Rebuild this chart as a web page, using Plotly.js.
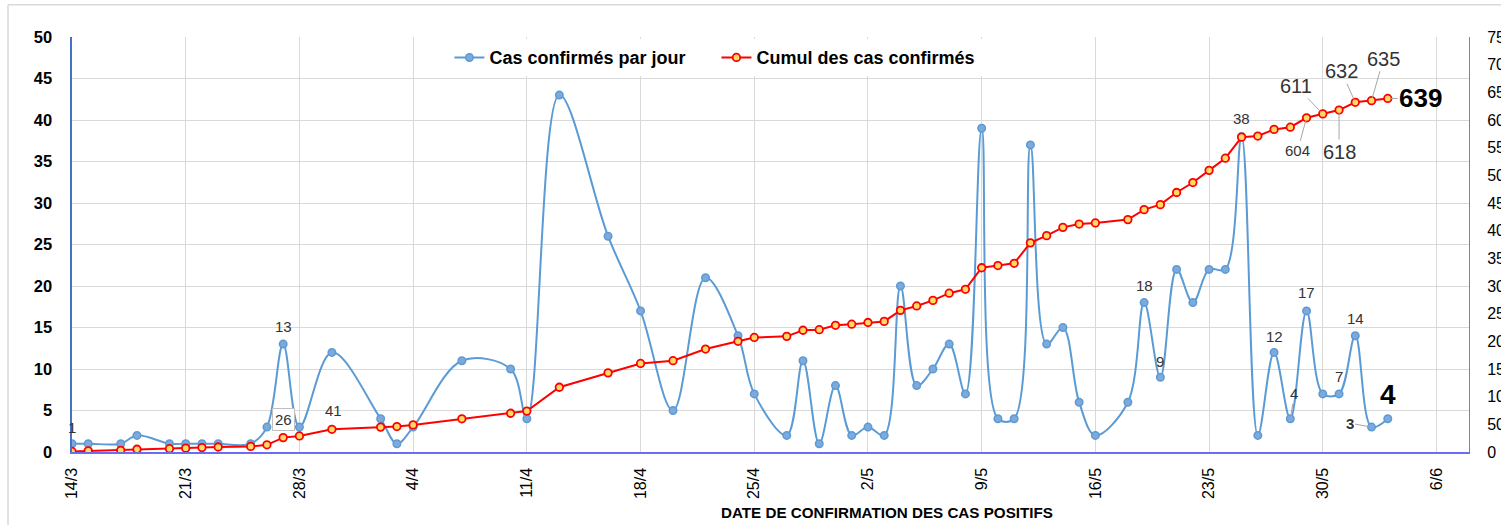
<!DOCTYPE html>
<html>
<head>
<meta charset="utf-8">
<script src="https://cdn.plot.ly/plotly-3.0.1.min.js"></script>
<style>
  html, body { margin: 0; padding: 0; background: #ffffff; }
  #chart { width: 1501px; height: 525px; }
</style>
</head>
<body>
<div id="chart"></div>
<script>
// ---- Data ----
const dates = [
  '2020-03-14','2020-03-15','2020-03-17','2020-03-18','2020-03-20','2020-03-21','2020-03-22','2020-03-23','2020-03-25','2020-03-26','2020-03-27','2020-03-28','2020-03-30',
  '2020-04-02','2020-04-03','2020-04-04','2020-04-07','2020-04-10','2020-04-11','2020-04-13','2020-04-16','2020-04-18','2020-04-20','2020-04-22','2020-04-24','2020-04-25','2020-04-27','2020-04-28','2020-04-29','2020-04-30',
  '2020-05-01','2020-05-02','2020-05-03','2020-05-04','2020-05-05','2020-05-06','2020-05-07','2020-05-08','2020-05-09','2020-05-10','2020-05-11','2020-05-12','2020-05-13','2020-05-14','2020-05-15','2020-05-16','2020-05-18','2020-05-19','2020-05-20','2020-05-21','2020-05-22','2020-05-23','2020-05-24','2020-05-25','2020-05-26','2020-05-27','2020-05-28','2020-05-29','2020-05-30','2020-05-31',
  '2020-06-01','2020-06-02','2020-06-03'
];
const dailyCases = [
  1,1,1,2,1,1,1,1,1,3,13,3,12,
  4,1,3,11,10,4,43,26,17,5,21,14,7,2,11,1,8,
  2,3,2,20,8,10,13,7,39,4,4,37,13,15,6,2,6,18,9,22,18,22,22,38,2,12,4,17,7,7,
  14,3,4
];
const cumulativeCases = [
  1,2,3,5,6,7,8,9,10,13,26,29,41,
  45,46,49,60,70,74,117,143,160,165,186,200,207,209,220,221,229,
  231,234,236,256,264,274,287,294,333,337,341,378,391,406,412,414,420,438,447,469,487,509,531,569,571,583,587,604,611,618,
  632,635,639
];
const seriesNames = ['Cas confirmés par jour', 'Cumul des cas confirmés'];
const xAxisTitle = 'DATE DE CONFIRMATION DES CAS POSITIFS';

// Labelled points: series, date of the point (text comes from the value)
const dailyLabelDates = ['2020-03-14','2020-03-27','2020-05-19','2020-05-20','2020-05-25','2020-05-27','2020-05-28','2020-05-29','2020-05-31','2020-06-01','2020-06-02','2020-06-03'];
const cumulLabelDates = ['2020-03-27','2020-03-30','2020-05-29','2020-05-30','2020-05-31','2020-06-01','2020-06-02','2020-06-03'];

// ---- Styles (positions of labels relative to their point, in px) ----
const labelStyle = {
  'd2020-03-14': {ys: 16},
  'd2020-03-27': {ys: 18},
  'd2020-05-19': {ys: 17},
  'd2020-05-20': {ys: 16},
  'd2020-05-25': {ys: 18},
  'd2020-05-27': {ys: 16},
  'd2020-05-28': {arrow: true, ax: 4, ay: -25},
  'd2020-05-29': {ys: 18},
  'd2020-05-31': {ys: 17},
  'd2020-06-01': {ys: 17},
  'd2020-06-02': {arrow: true, ax: -22, ay: -4, bold: true},
  'd2020-06-03': {ys: 24, size: 28, bold: true, color: '#000'},
  'c2020-03-27': {ys: 18, box: true},
  'c2020-03-30': {ys: 19, xs: 2},
  'c2020-05-29': {arrow: true, ax: -9, ay: 33},
  'c2020-05-30': {arrow: true, ax: -27, ay: -28, size: 20},
  'c2020-05-31': {arrow: true, ax: 0, ay: 42, size: 20},
  'c2020-06-01': {arrow: true, ax: -14, ay: -31, size: 20},
  'c2020-06-02': {arrow: true, ax: 12, ay: -42, size: 20},
  'c2020-06-03': {arrow: true, ax: 33, ay: 0, size: 26, bold: true, color: '#000'}
};

const FONT = 'Liberation Sans, Arial, sans-serif';
const annotations = [];
function addLabel(key, xVal, yVal, yref) {
  const s = labelStyle[key] || {};
  const size = s.size || 15;
  const txt = s.bold ? '<b>' + yVal + '</b>' : String(yVal);
  const a = {
    x: xVal, y: yVal, xref: 'x', yref: yref, text: txt,
    font: {family: FONT, size: size, color: s.color || '#333333'},
  };
  if (s.arrow) {
    Object.assign(a, {showarrow: true, arrowhead: 0, arrowwidth: 1, arrowcolor: '#a6a6a6',
      ax: s.ax, ay: s.ay, standoff: 3});
  } else {
    Object.assign(a, {showarrow: false, yshift: s.ys || 0, xshift: s.xs || 0});
  }
  if (s.box) {
    Object.assign(a, {bordercolor: '#bfbfbf', borderwidth: 1, bgcolor: '#ffffff', borderpad: 2});
  }
  annotations.push(a);
}
dailyLabelDates.forEach(d => { const i = dates.indexOf(d); addLabel('d' + d, dates[i], dailyCases[i], 'y'); });
cumulLabelDates.forEach(d => { const i = dates.indexOf(d); addLabel('c' + d, dates[i], cumulativeCases[i], 'y2'); });

annotations.push({
  xref: 'paper', yref: 'paper', x: 0.5834, y: -0.145, yanchor: 'middle', showarrow: false,
  text: '<b>' + xAxisTitle + '</b>', font: {family: FONT, size: 15.2, color: '#000'}
});

const traces = [
  {
    x: dates, y: dailyCases, name: seriesNames[0], type: 'scatter', mode: 'lines+markers',
    yaxis: 'y',
    line: {color: '#5B9BD5', width: 2, shape: 'spline', smoothing: 1},
    marker: {color: '#7EA9DA', size: 7.5, line: {color: '#5B9BD5', width: 1.5}}
  },
  {
    x: dates, y: cumulativeCases, name: seriesNames[1], type: 'scatter', mode: 'lines+markers',
    yaxis: 'y2',
    line: {color: '#FF0000', width: 2},
    marker: {color: '#FFD966', size: 7.5, line: {color: '#FF0000', width: 1.8}}
  }
];

const layout = {
  width: 1501, height: 525,
  margin: {l: 72, r: 32, t: 37, b: 73, pad: 0},
  paper_bgcolor: '#ffffff', plot_bgcolor: '#ffffff',
  font: {family: FONT, color: '#000'},
  showlegend: true,
  legend: {
    orientation: 'h', x: 0.4613, xanchor: 'center', y: 0.95, yanchor: 'middle',
    bgcolor: '#ffffff', font: {family: FONT, size: 18, color: '#000', weight: 'bold'},
    itemwidth: 30, tracegroupgap: 0, entrywidth: 222, entrywidthmode: 'pixels'
  },
  xaxis: {
    type: 'date', range: ['2020-03-14', '2020-06-08'],
    tick0: '2020-03-14', dtick: 7 * 86400000, tickformat: '%-d/%-m',
    tickangle: -90, tickfont: {family: FONT, size: 16, color: '#000'},
    showgrid: true, gridcolor: '#d9d9d9', gridwidth: 1,
    showline: true, linecolor: '#6b6bf5', linewidth: 1.5,
    ticks: '', ticklabelstandoff: 8, zeroline: false, fixedrange: true
  },
  yaxis: {
    range: [0, 50], dtick: 5, tick0: 0,
    tickfont: {family: FONT, size: 16.5, color: '#000', weight: 'bold'},
    showgrid: true, gridcolor: '#d9d9d9', gridwidth: 1,
    showline: true, linecolor: '#4472C4', linewidth: 2.5,
    ticks: '', ticklabelstandoff: 14, zeroline: false
  },
  yaxis2: {
    range: [0, 750], dtick: 50, tick0: 0, overlaying: 'y', side: 'right',
    tickfont: {family: FONT, size: 16, color: '#000'},
    showgrid: false, showline: true, linecolor: '#6b7fe0', linewidth: 1,
    ticks: '', ticklabelstandoff: 14, zeroline: false
  },
  shapes: [
    {type: 'line', xref: 'paper', yref: 'paper', x0: -0.0458, x1: 1.2, y0: 1.0778, y1: 1.0778,
     line: {color: '#d9d9d9', width: 1.5}},
    {type: 'line', xref: 'paper', yref: 'paper', x0: -0.0458, x1: -0.0458, y0: -0.3, y1: 1.0778,
     line: {color: '#d9d9d9', width: 1.5}}
  ],
  annotations: annotations
};

Plotly.newPlot('chart', traces, layout, {displayModeBar: false, staticPlot: true});
</script>
</body>
</html>
